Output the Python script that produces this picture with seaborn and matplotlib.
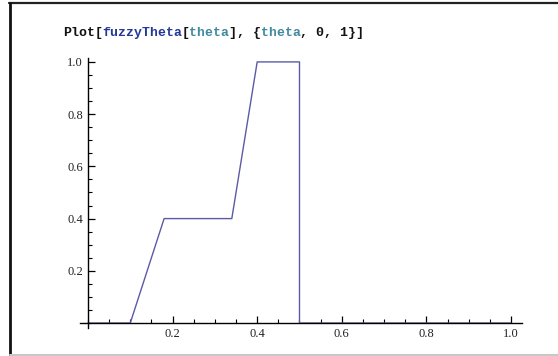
import matplotlib
matplotlib.use("Agg")
import matplotlib.pyplot as plt
import seaborn as sns
import pandas as pd
from matplotlib.lines import Line2D
from matplotlib.ticker import MultipleLocator

# data
theta = [0.0, 0.1, 0.18, 0.34, 0.4, 0.5, 0.5, 1.0]
fuzzy = [0.0, 0.0, 0.4, 0.4, 1.0, 1.0, 0.0, 0.0]
x_ticks = [0.2, 0.4, 0.6, 0.8, 1.0]
y_ticks = [0.2, 0.4, 0.6, 0.8, 1.0]
tick_labels_x = ["0.2", "0.4", "0.6", "0.8", "1.0"]
tick_labels_y = ["0.2", "0.4", "0.6", "0.8", "1.0"]
title_parts = [("Plot[", "#111111"), ("fuzzyTheta", "#23389a"), ("[", "#111111"),
               ("theta", "#3f8aa0"), ("], {", "#111111"), ("theta", "#3f8aa0"),
               (", 0, 1}]", "#111111")]

sns.set_style("white")
W, H = 558, 356
fig = plt.figure(figsize=(W / 100, H / 100), dpi=100)
ax = fig.add_axes([79.5 / W, (H - 328) / H, (521.6 - 79.5) / W, (328 - 58) / H])

df = pd.DataFrame({"theta": theta, "fuzzy": fuzzy})
sns.lineplot(data=df, x="theta", y="fuzzy", sort=False, estimator=None,
             color="#5a5aa6", linewidth=1.0, ax=ax)

ax.set_xlim(-0.02, 1.025)
ax.set_ylim(-0.019, 1.015)
for s in ["top", "right"]:
    ax.spines[s].set_visible(False)
for s in ["left", "bottom"]:
    ax.spines[s].set_position(("data", 0))
    ax.spines[s].set_color("black")
    ax.spines[s].set_linewidth(1.0)
ax.spines["left"].set_bounds(-0.019, 1.015)
ax.spines["bottom"].set_bounds(-0.02, 1.025)

ax.set_xticks(x_ticks)
ax.set_xticklabels(tick_labels_x)
ax.set_yticks(y_ticks)
ax.set_yticklabels(tick_labels_y)
ax.xaxis.set_minor_locator(MultipleLocator(0.05))
ax.yaxis.set_minor_locator(MultipleLocator(0.05))
ax.tick_params(axis="both", which="major", direction="in", length=5, width=0.9,
               color="black", labelsize=9, pad=3.5, labelcolor="#222222")
ax.tick_params(axis="both", which="minor", direction="in", length=3, width=0.8,
               color="black")
ax.tick_params(axis="x", which="both", bottom=True, top=False)
ax.tick_params(axis="y", which="both", left=True, right=False)
for lab in ax.get_xticklabels() + ax.get_yticklabels():
    lab.set_family("Liberation Serif")
ax.set_xlabel("")
ax.set_ylabel("")
ax.set_facecolor("none")

# title text in monospace pieces
cw = 7.9
x0 = 63
n = 0
for txt, col in title_parts:
    fig.text((x0 + n * cw) / W, (H - 36) / H, txt, color=col,
             family="Liberation Mono", weight="bold", fontsize=9.5,
             ha="left", va="baseline")
    n += len(txt)

# notebook frame lines
fig.add_artist(Line2D([9 / W, 1], [(H - 2.5) / H, (H - 2.5) / H],
                      transform=fig.transFigure, color="#222222", linewidth=1.6))
fig.add_artist(Line2D([10 / W, 10 / W], [0, (H - 2.5) / H],
                      transform=fig.transFigure, color="#111111", linewidth=2.0))
fig.add_artist(Line2D([10 / W, 1], [1.5 / H, 1.5 / H],
                      transform=fig.transFigure, color="#c8c8c8", linewidth=1.5))

fig.savefig("out.png", dpi=100)
